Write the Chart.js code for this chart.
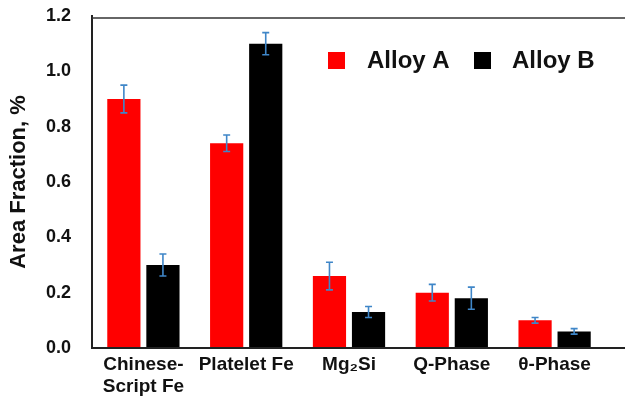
<!DOCTYPE html>
<html>
<head>
<meta charset="utf-8">
<script src="https://cdn.jsdelivr.net/npm/chart.js@4"></script>
<style>
  html, body { margin: 0; padding: 0; background: #fff; }
  #wrap { width: 625px; height: 406px; position: relative; }
</style>
</head>
<body>
<div id="wrap"><canvas id="c" width="625" height="406"></canvas></div>
<script>
const categories = [['Chinese-', 'Script Fe'], 'Platelet Fe', 'Mg\u2082Si', 'Q-Phase', '\u03B8-Phase'];
const seriesNames = ['Alloy A', 'Alloy B'];
const alloyA = [0.90, 0.74, 0.26, 0.20, 0.10];
const alloyB = [0.30, 1.10, 0.13, 0.18, 0.06];
const errA = [0.05, 0.03, 0.05, 0.03, 0.01];
const errB = [0.04, 0.04, 0.02, 0.04, 0.01];
const yMin = 0, yMax = 1.2, yStep = 0.2;

const FONT = "'Liberation Sans', Arial, Helvetica, sans-serif";

const errorBarPlugin = {
  id: 'errorBars',
  afterDatasetsDraw(chart) {
    const ctx = chart.ctx;
    const y = chart.scales.y;
    ctx.save();
    ctx.strokeStyle = '#3f86c8';
    ctx.lineWidth = 1.6;
    chart.data.datasets.forEach((ds, di) => {
      const meta = chart.getDatasetMeta(di);
      meta.data.forEach((bar, i) => {
        const v = ds.data[i], e = ds.errors[i];
        const x = bar.x;
        const yt = y.getPixelForValue(v + e);
        const yb = y.getPixelForValue(v - e);
        const cap = 3.5;
        ctx.beginPath();
        ctx.moveTo(x, yt); ctx.lineTo(x, yb);
        ctx.moveTo(x - cap, yt); ctx.lineTo(x + cap, yt);
        ctx.moveTo(x - cap, yb); ctx.lineTo(x + cap, yb);
        ctx.stroke();
      });
    });
    ctx.restore();
  }
};

const framePlugin = {
  id: 'frame',
  afterDraw(chart) {
    const ctx = chart.ctx;
    const a = chart.chartArea;
    ctx.save();
    ctx.strokeStyle = '#333';
    ctx.lineWidth = 1.5;
    ctx.beginPath();
    ctx.moveTo(a.left, a.top + 2);
    ctx.lineTo(chart.width, a.top + 2);
    ctx.stroke();
    ctx.strokeStyle = '#222';
    ctx.lineWidth = 2;
    ctx.beginPath();
    ctx.moveTo(a.left, a.bottom);
    ctx.lineTo(chart.width, a.bottom);
    ctx.stroke();
    ctx.restore();
  }
};

const legendPlugin = {
  id: 'innerLegend',
  afterDraw(chart) {
    const ctx = chart.ctx;
    const items = [
      { box: 328, text: 367 },
      { box: 474, text: 512 }
    ];
    ctx.save();
    ctx.font = "bold 24px " + FONT;
    ctx.textBaseline = 'middle';
    ctx.textAlign = 'left';
    chart.data.datasets.forEach((ds, i) => {
      const it = items[i];
      ctx.fillStyle = ds.backgroundColor;
      ctx.fillRect(it.box, 52, 17, 17);
      ctx.fillStyle = '#111';
      ctx.fillText(ds.label, it.text, 61);
    });
    ctx.restore();
  }
};

new Chart(document.getElementById('c'), {
  type: 'bar',
  data: {
    labels: categories,
    datasets: [
      { label: seriesNames[0], data: alloyA, errors: errA, backgroundColor: '#ff0000' },
      { label: seriesNames[1], data: alloyB, errors: errB, backgroundColor: '#000000' }
    ]
  },
  options: {
    responsive: false,
    animation: false,
    devicePixelRatio: 1,
    layout: { padding: { top: 16, right: 19, left: 0, bottom: 0 } },
    datasets: { bar: { categoryPercentage: 0.76, barPercentage: 0.85 } },
    plugins: { legend: { display: false }, tooltip: { enabled: false } },
    scales: {
      x: {
        grid: { display: false, drawTicks: false },
        border: { display: false },
        ticks: {
          color: '#111',
          padding: 5,
          maxRotation: 0,
          autoSkip: false,
          font: { family: FONT, size: 19, weight: 'bold', lineHeight: 1.2 }
        },
        afterFit(s) { s.height = 58; }
      },
      y: {
        min: yMin, max: yMax,
        grid: { display: false, drawTicks: true, tickLength: 18, tickColor: 'rgba(0,0,0,0)' },
        border: { display: true, color: '#222', width: 2 },
        ticks: {
          stepSize: yStep,
          color: '#111',
          padding: 3,
          font: { family: FONT, size: 18, weight: 'bold' },
          callback: (v) => Number(v).toFixed(1)
        },
        title: {
          display: true,
          text: 'Area Fraction, %',
          color: '#111',
          padding: { top: 6, bottom: 0 },
          font: { family: FONT, size: 22, weight: 'bold' }
        },
        afterFit(s) { s.width = 92; }
      }
    }
  },
  plugins: [errorBarPlugin, framePlugin, legendPlugin]
});
</script>
</body>
</html>
